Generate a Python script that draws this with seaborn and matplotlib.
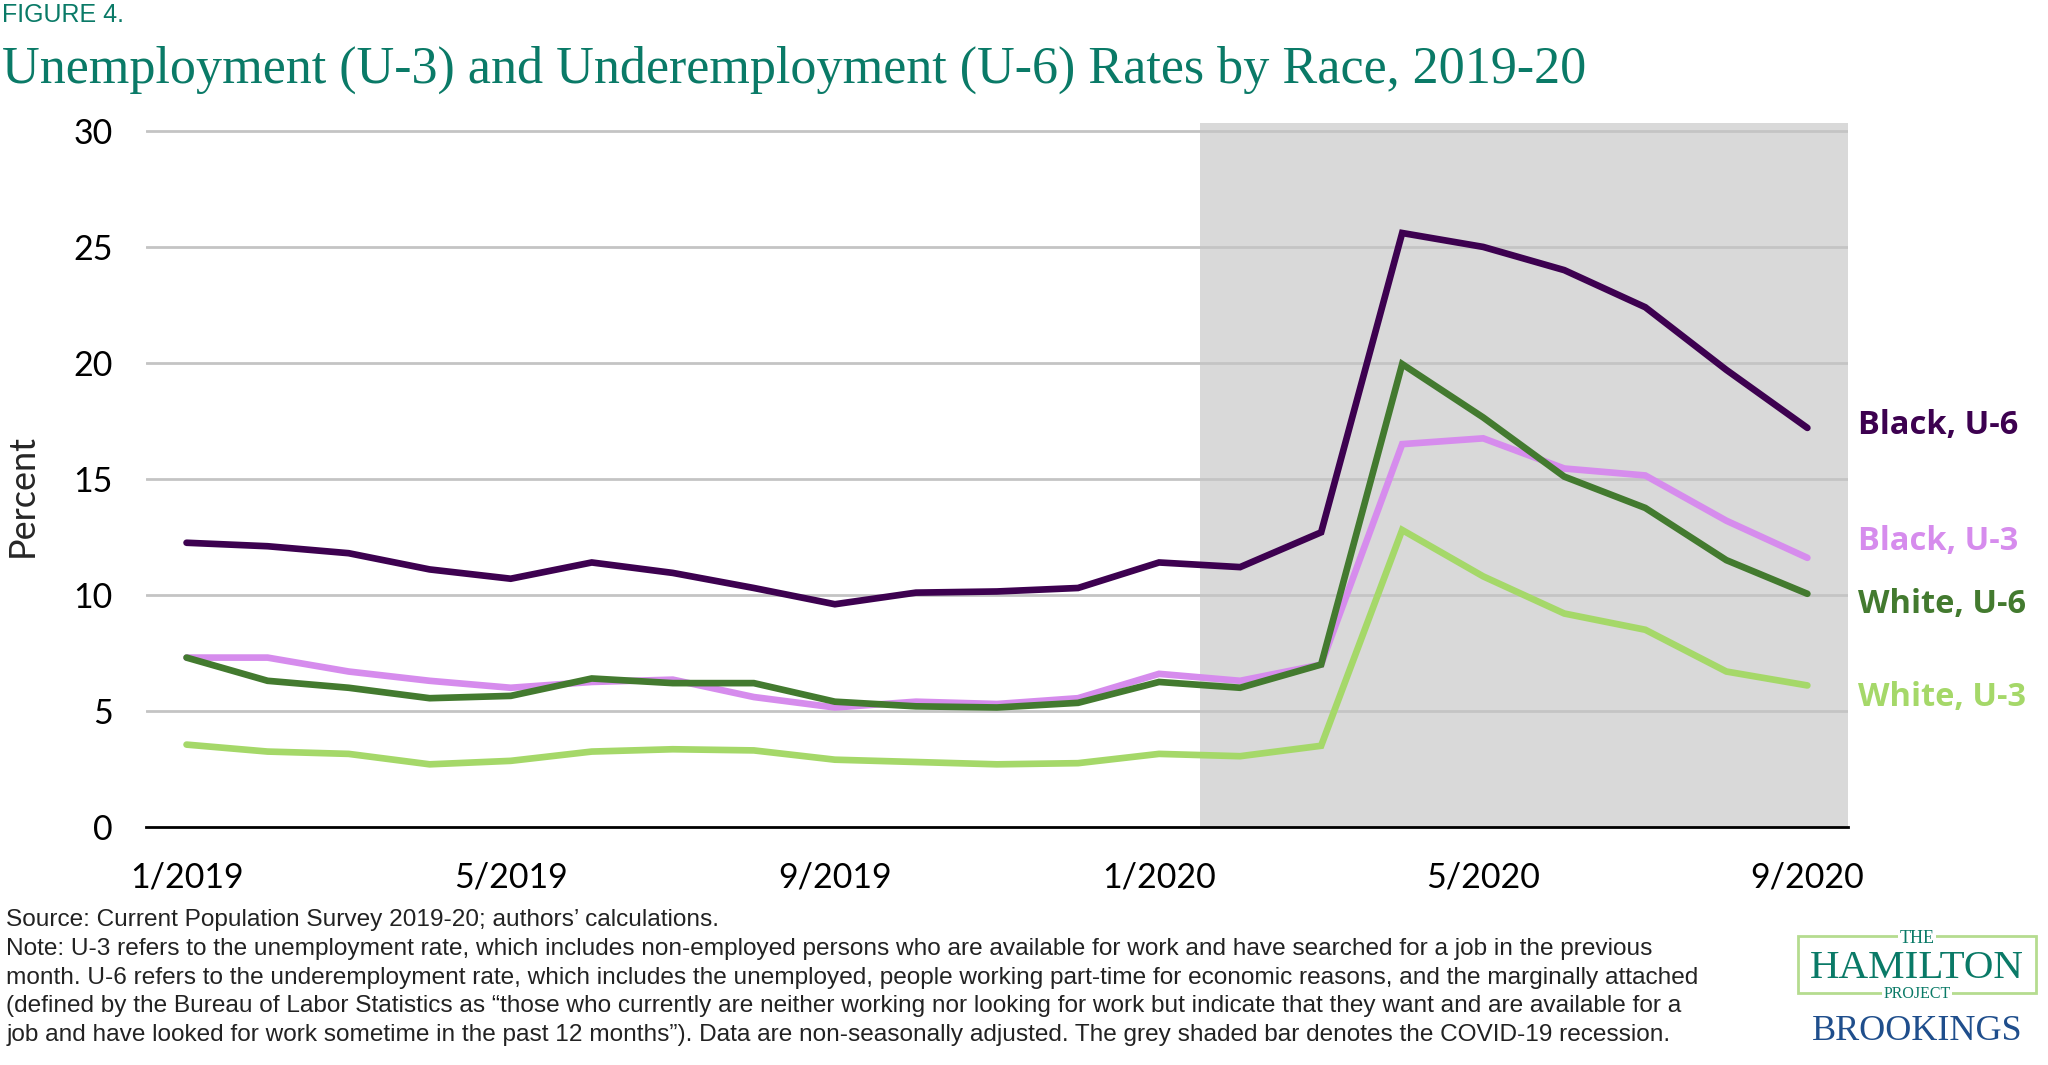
import matplotlib.pyplot as plt
import matplotlib.patches as mpatches
import seaborn as sns
import pandas as pd

# Monthly series, Jan 2019 - Sep 2020 (percent)
months = ["1/2019", "2/2019", "3/2019", "4/2019", "5/2019", "6/2019", "7/2019",
          "8/2019", "9/2019", "10/2019", "11/2019", "12/2019", "1/2020", "2/2020",
          "3/2020", "4/2020", "5/2020", "6/2020", "7/2020", "8/2020", "9/2020"]
black_u6 = [12.25, 12.1, 11.8, 11.1, 10.7, 11.4, 10.95, 10.3, 9.6, 10.1, 10.15,
            10.3, 11.4, 11.2, 12.7, 25.6, 25.0, 24.0, 22.4, 19.7, 17.2]
black_u3 = [7.3, 7.3, 6.7, 6.3, 6.0, 6.25, 6.35, 5.6, 5.15, 5.4, 5.3, 5.55, 6.6,
            6.3, 7.0, 16.5, 16.75, 15.45, 15.15, 13.2, 11.6]
white_u6 = [7.3, 6.3, 6.0, 5.55, 5.65, 6.4, 6.2, 6.2, 5.4, 5.2, 5.15, 5.35, 6.25,
            6.0, 7.0, 19.95, 17.65, 15.1, 13.75, 11.5, 10.05]
white_u3 = [3.55, 3.25, 3.15, 2.7, 2.85, 3.25, 3.35, 3.3, 2.9, 2.8, 2.7, 2.75,
            3.15, 3.05, 3.5, 12.8, 10.8, 9.2, 8.5, 6.7, 6.1]
series_names = ["Black, U-6", "Black, U-3", "White, U-6", "White, U-3"]
series_colors = ["#3d0150", "#d68ced", "#437a2f", "#a5d869"]
tick_labels = ["1/2019", "5/2019", "9/2019", "1/2020", "5/2020", "9/2020"]
recession_start, recession_end = "2/2020", "9/2020"

sns.set_theme(style="white")
plt.rcParams["font.family"] = ["Lato", "DejaVu Sans"]

df = pd.DataFrame({"month": months, "Black, U-6": black_u6, "Black, U-3": black_u3,
                   "White, U-6": white_u6, "White, U-3": white_u3})
df["pos"] = range(len(df))
long_df = df.melt(id_vars=["month", "pos"], var_name="series", value_name="rate")

fig = plt.figure(figsize=(20.48, 10.65), dpi=100)
ax = fig.add_axes([0.0713, 0.2235, 0.831, 0.6612])

# shaded COVID-19 recession
x0 = months.index(recession_start) - 0.5
x1 = months.index(recession_end) + 0.5
ax.axvspan(x0, x1, color="#d9d9d9", zorder=0, lw=0)

for y in [5, 10, 15, 20, 25, 30]:
    ax.axhline(y, color="#c4c4c4", lw=2, zorder=1)

sns.lineplot(data=long_df, x="pos", y="rate", hue="series", hue_order=series_names,
             palette=series_colors, lw=4.8, legend=False, ax=ax, zorder=3,
             solid_capstyle="round", solid_joinstyle="miter")

ax.set_xlim(-0.5, len(months) - 0.5)
ax.set_ylim(0, 30.35)
ax.set_yticks([0, 5, 10, 15, 20, 25, 30])
ax.set_yticklabels(["0", "5", "10", "15", "20", "25", "30"])
ax.set_xticks([months.index(t) for t in tick_labels])
ax.set_xticklabels(tick_labels)
ax.tick_params(axis="both", length=0, labelsize=24.5, colors="black")
ax.tick_params(axis="x", pad=25)
ax.tick_params(axis="y", pad=24)
for s in ["top", "right", "left"]:
    ax.spines[s].set_visible(False)
ax.spines["bottom"].set_color("black")
ax.spines["bottom"].set_linewidth(2)
ax.spines["bottom"].set_zorder(4)
ax.set_xlabel("")
ax.set_ylabel("")
fig.text(0.0107, 0.535, "Percent", fontsize=26, rotation=90, ha="center", va="center")

# direct labels at the right
label_y = {"Black, U-6": 17.3, "Black, U-3": 12.3, "White, U-6": 9.6, "White, U-3": 5.58}
for name, col in zip(series_names, series_colors):
    ax.text(len(months) - 0.5 + 0.12, label_y[name], name, color=col, fontsize=23.5,
            fontweight="bold", va="center", ha="left", clip_on=False,
            family=["Open Sans", "DejaVu Sans"])

teal = "#0a7a67"
fig.text(0.001, 0.997, "FIGURE 4.", color=teal, fontsize=18, va="top",
         family=["Liberation Sans Narrow", "Liberation Sans", "DejaVu Sans"])
fig.text(0.001, 0.9343, "Unemployment (U-3) and Underemployment (U-6) Rates by Race, 2019-20",
         color=teal, fontsize=37.5, va="center", family=["Liberation Serif", "DejaVu Serif"])

notes = ("Source: Current Population Survey 2019-20; authors\u2019 calculations.\n"
         "Note: U-3 refers to the unemployment rate, which includes non-employed persons who are available for work and have searched for a job in the previous\n"
         "month. U-6 refers to the underemployment rate, which includes the unemployed, people working part-time for economic reasons, and the marginally attached\n"
         "(defined by the Bureau of Labor Statistics as \u201cthose who currently are neither working nor looking for work but indicate that they want and are available for a\n"
         "job and have looked for work sometime in the past 12 months\u201d). Data are non-seasonally adjusted. The grey shaded bar denotes the COVID-19 recession.")
fig.text(0.003, 0.1462, notes, color="#222222", fontsize=17.6, va="top", linespacing=1.39,
         family=["Liberation Sans Narrow", "Liberation Sans", "DejaVu Sans"])

# logo
fig.patches.append(mpatches.Rectangle((0.878, 0.068), 0.116, 0.053, transform=fig.transFigure,
                                      fill=False, ec="#b5dc8f", lw=2))
fig.text(0.936, 0.119, "THE", color=teal, fontsize=13, ha="center", va="center",
         family=["Liberation Serif"], bbox=dict(fc="white", ec="none", pad=1))
fig.text(0.936, 0.0815, "HAMILTON", color=teal, fontsize=29.5, ha="center", va="baseline",
         family=["Liberation Serif"])
fig.text(0.936, 0.0665, "PROJECT", color=teal, fontsize=11.5, ha="center", va="center",
         family=["Liberation Serif"], bbox=dict(fc="white", ec="none", pad=1))
fig.text(0.936, 0.031, "BROOKINGS", color="#1f4e8c", fontsize=26, ha="center", va="center",
         family=["Liberation Serif"])

fig.savefig("out.png", dpi=100)
